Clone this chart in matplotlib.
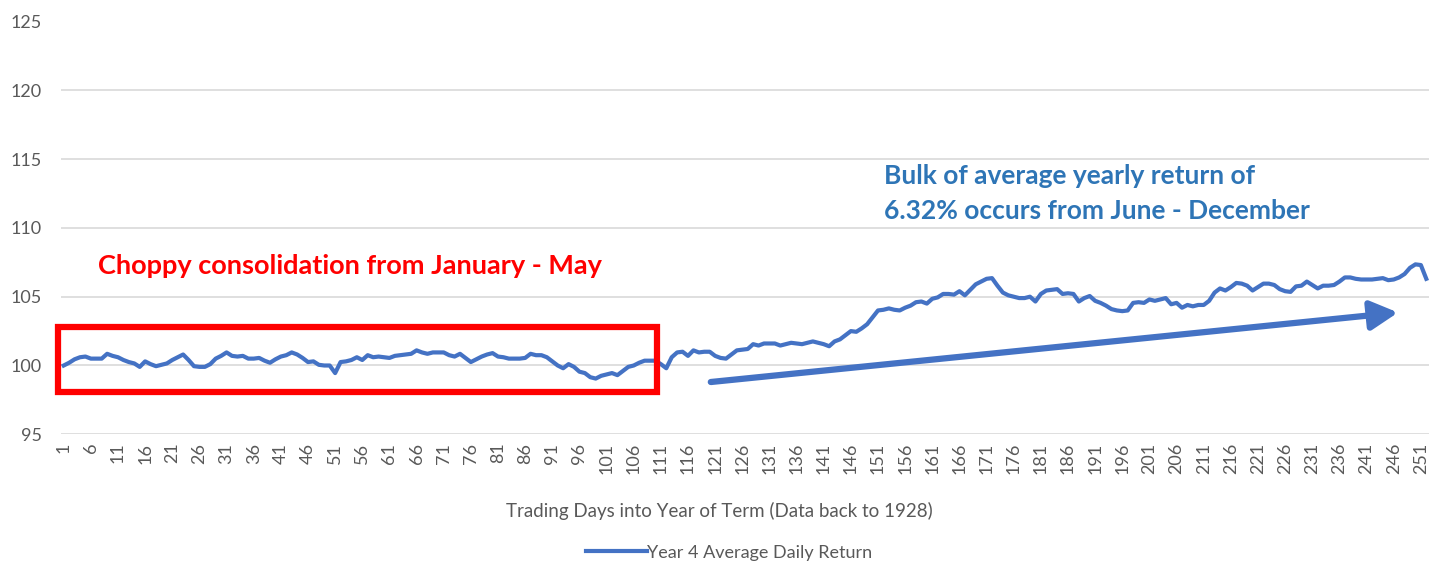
import matplotlib
matplotlib.use("Agg")
import matplotlib.pyplot as plt
import matplotlib.patches as patches

plt.rcParams['font.family'] = ['Lato', 'DejaVu Sans']

# Year 4 average daily return index, trading days 1..252
days = list(range(1, 253))
returns = [
    100.0, 100.2, 100.45, 100.6, 100.65, 100.5, 100.5, 100.5, 100.85, 100.7,
    100.6, 100.4, 100.25, 100.15, 99.9, 100.3, 100.1, 99.95, 100.05, 100.15,
    100.4, 100.6, 100.8, 100.4, 99.95, 99.9, 99.9, 100.1, 100.5, 100.7,
    100.95, 100.7, 100.65, 100.7, 100.5, 100.5, 100.55, 100.35, 100.2, 100.45,
    100.65, 100.75, 100.95, 100.8, 100.55, 100.25, 100.3, 100.05, 100.0, 100.0,
    99.45, 100.25, 100.3, 100.4, 100.6, 100.4, 100.75, 100.6, 100.65, 100.6,
    100.55, 100.7, 100.75, 100.8, 100.85, 101.1, 100.95, 100.85, 100.95, 100.95,
    100.95, 100.75, 100.65, 100.85, 100.55, 100.25, 100.45, 100.65, 100.8, 100.9,
    100.65, 100.6, 100.5, 100.5, 100.5, 100.55, 100.85, 100.75, 100.75, 100.6,
    100.3, 100.0, 99.8, 100.1, 99.9, 99.55, 99.45, 99.15, 99.05, 99.25,
    99.35, 99.45, 99.3, 99.6, 99.9, 100.0, 100.2, 100.35, 100.35, 100.35,
    100.1, 99.8, 100.6, 100.95, 101.0, 100.7, 101.1, 100.95, 101.0, 101.0,
    100.7, 100.55, 100.5, 100.8, 101.1, 101.15, 101.2, 101.55, 101.45, 101.6,
    101.6, 101.6, 101.45, 101.55, 101.65, 101.6, 101.55, 101.65, 101.75, 101.65,
    101.55, 101.4, 101.75, 101.9, 102.2, 102.5, 102.45, 102.7, 103.0, 103.5,
    104.0, 104.05, 104.15, 104.05, 104.0, 104.2, 104.35, 104.6, 104.65, 104.5,
    104.85, 104.95, 105.2, 105.2, 105.15, 105.4, 105.1, 105.5, 105.9, 106.1,
    106.3, 106.35, 105.8, 105.3, 105.1, 105.0, 104.9, 104.9, 105.0, 104.65,
    105.2, 105.45, 105.5, 105.55, 105.2, 105.25, 105.2, 104.65, 104.9, 105.05,
    104.7, 104.55, 104.35, 104.1, 104.0, 103.95, 104.0, 104.55, 104.6, 104.55,
    104.8, 104.7, 104.8, 104.9, 104.45, 104.55, 104.2, 104.4, 104.3, 104.4,
    104.4, 104.7, 105.3, 105.6, 105.45, 105.7, 106.0, 105.95, 105.8, 105.45,
    105.7, 105.95, 105.95, 105.85, 105.55, 105.4, 105.35, 105.75, 105.8, 106.1,
    105.85, 105.6, 105.8, 105.8, 105.85, 106.1, 106.4, 106.4, 106.3, 106.25,
    106.25, 106.25, 106.3, 106.35, 106.2, 106.25, 106.4, 106.65, 107.1, 107.35,
    107.3, 106.3,
]
y_ticks = [95, 100, 105, 110, 115, 120, 125]
x_ticks = list(range(1, 253, 5))

LINE = '#4472C4'
GRAY = '#595959'

fig = plt.figure(figsize=(14.29, 5.65), dpi=100)
ax = fig.add_axes([61/1429, 1 - 434.3/565, 1368/1429, 412.8/565])

ax.plot(days, returns, color=LINE, lw=3.0, solid_joinstyle='round',
        label='Year 4 Average Daily Return', zorder=3)

ax.set_xlim(0.5, 252.5)
ax.set_ylim(95, 125)
ax.set_yticks(y_ticks)
ax.set_xticks(x_ticks)
ax.set_xticklabels([str(t) for t in x_ticks], rotation=90, va='top')
ax.tick_params(axis='both', length=0, colors=GRAY, labelsize=13)
ax.tick_params(axis='y', pad=14)
ax.tick_params(axis='x', pad=6)
ax.grid(axis='y', color='#D9D9D9', lw=1.2)
ax.set_axisbelow(True)
for s in ax.spines.values():
    s.set_visible(False)

ax.set_xlabel('Trading Days into Year of Term (Data back to 1928)',
              fontsize=13.5, color=GRAY, labelpad=20)
ax.xaxis.label.set_x(0.481)

# Red box around the choppy first months
box = patches.Rectangle((-0.1, 98.05), 110.3, 4.75, fill=False,
                        ec='#FF0000', lw=4.5, clip_on=False, zorder=4)
ax.add_patch(box)
ax.text(7.3, 107.2, 'Choppy consolidation from January - May', color='#FF0000',
        fontsize=19.5, fontweight='bold', va='center', ha='left')

# Trend arrow
ax.annotate('', xy=(246.8, 103.85), xytext=(120.2, 98.8),
            arrowprops=dict(arrowstyle='-|>,head_length=0.75,head_width=0.4',
                            color=LINE, lw=4.5, mutation_scale=22, shrinkA=0, shrinkB=0),
            zorder=4)
ax.text(152.1, 112.5, 'Bulk of average yearly return of\n6.32% occurs from June - December',
        color='#2E75B6', fontsize=19, fontweight='bold', va='center', ha='left',
        linespacing=1.55)

leg = fig.legend(loc='lower center', bbox_to_anchor=(0.51, -0.021), frameon=False,
                 fontsize=13, handlelength=3.4, handletextpad=0.0)
for t in leg.get_texts():
    t.set_color(GRAY)

fig.savefig('out.png', dpi=100)
